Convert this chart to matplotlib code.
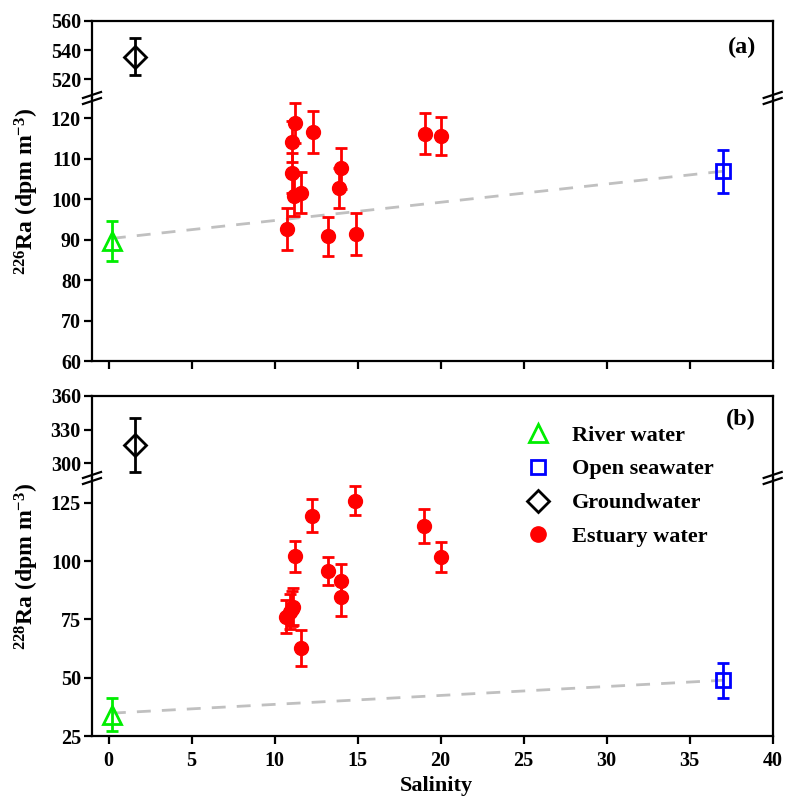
import numpy as np
import matplotlib
matplotlib.use('Agg')
import matplotlib.pyplot as plt
from matplotlib.lines import Line2D

plt.rcParams['font.family'] = ['Liberation Serif', 'DejaVu Serif']
plt.rcParams['font.weight'] = 'bold'
plt.rcParams['mathtext.fontset'] = 'custom'
plt.rcParams['mathtext.rm'] = 'Liberation Serif:bold'
plt.rcParams['mathtext.default'] = 'rm'

# end members
sal_river, sal_gw, sal_sea = 0.2, 1.6, 37.0

ra226_river, ra226_river_err = 89.7, 5.0
ra226_gw, ra226_gw_err = 535.5, 12.5
ra226_sea, ra226_sea_err = 106.9, 5.3

ra228_river, ra228_river_err = 34.2, 7.0
ra228_gw, ra228_gw_err = 316.0, 24.0
ra228_sea, ra228_sea_err = 48.9, 7.6

# estuary samples
sal_a = [10.75, 11.05, 11.2, 11.05, 11.15, 11.6, 12.3, 13.2, 13.9, 14.0, 14.9, 19.05, 20.0]
ra226 = [92.6, 114.2, 118.8, 106.5, 100.9, 101.6, 116.5, 90.8, 102.8, 107.6, 91.4, 116.2, 115.6]
ra226_err = [5.1, 5.0, 5.0, 5.0, 5.0, 5.0, 5.2, 4.8, 5.0, 5.0, 5.1, 5.0, 4.7]

sal_b = [10.67, 10.95, 11.2, 11.1, 11.05, 11.57, 12.28, 13.2, 13.97, 14.0, 14.87, 19.0, 20.0]
ra228 = [76.1, 78.2, 102.1, 80.4, 79.5, 62.8, 119.4, 95.8, 91.3, 84.4, 125.9, 115.1, 101.8]
ra228_err = [7.0, 7.5, 6.6, 7.9, 7.5, 7.6, 7.0, 6.0, 7.4, 7.9, 6.3, 7.2, 6.5]

W, H = 786, 799
fig = plt.figure(figsize=(W / 100, H / 100), dpi=100)

left, right = 92 / W, 772.7 / W


def rect(top_px, bot_px):
    return [left, 1 - bot_px / H, right - left, (bot_px - top_px) / H]


def draw_panel(top_px, brk_px, bot_px, hi_lim, hi_ticks, lo_lim, lo_ticks,
               river, gw, sea, sal, est, ylabel, tag, tag_y, show_xlabels):
    ax_hi = fig.add_axes(rect(top_px, brk_px))
    ax_lo = fig.add_axes(rect(brk_px, bot_px))
    for ax in (ax_hi, ax_lo):
        ax.errorbar([sal_river], [river[0]], yerr=[river[1]], fmt='^', ms=13,
                    mfc='none', mec='#00ee00', mew=2, ecolor='#00ee00',
                    elinewidth=2, capsize=4, capthick=2, zorder=4)
        ax.errorbar([sal_gw], [gw[0]], yerr=[gw[1]], fmt='D', ms=11,
                    mfc='none', mec='black', mew=2, ecolor='black',
                    elinewidth=2, capsize=4, capthick=2, zorder=4)
        ax.errorbar([sal_sea], [sea[0]], yerr=[sea[1]], fmt='s', ms=10,
                    mfc='none', mec='#0000ff', mew=2, ecolor='#0000ff',
                    elinewidth=2, capsize=4, capthick=2, zorder=4)
        ax.errorbar(sal, est[0], yerr=est[1], fmt='o', ms=10, color='red',
                    ecolor='red', elinewidth=2, capsize=4, capthick=2, zorder=3)
        ax.set_xlim(-1, 40)
        for s in ax.spines.values():
            s.set_linewidth(1.6)
        ax.tick_params(axis='y', direction='out', length=6, width=1.6,
                       labelsize=14.5, right=False, pad=2)
    ax_lo.plot([sal_river, sal_sea], [river[0] + 0.6, sea[0]], ls=(0, (5, 4)),
               color='#c0c0c0', lw=2, zorder=1)

    ax_hi.set_ylim(*hi_lim)
    ax_hi.set_yticks(hi_ticks)
    ax_hi.spines['bottom'].set_visible(False)
    ax_hi.tick_params(axis='x', bottom=False, labelbottom=False)
    ax_lo.set_ylim(*lo_lim)
    ax_lo.set_yticks(lo_ticks)
    ax_lo.spines['top'].set_visible(False)
    ax_lo.set_xticks(range(0, 41, 5))
    ax_lo.tick_params(axis='x', direction='out', length=6, width=1.6,
                      labelsize=14.5, labelbottom=show_xlabels, pad=5)

    fig.text(27 / W, 1 - (top_px + bot_px) / 2 / H, ylabel, rotation=90,
             ha='center', va='center', fontsize=17, fontweight='bold')
    fig.text(756 / W, 1 - tag_y / H, tag, ha='right', va='center',
             fontsize=17.5, fontweight='bold')

    # axis break marks
    yb = 1 - brk_px / H
    for xb in (left, right):
        for dy in (-3, 3):
            fig.add_artist(Line2D([xb - 9 / W, xb + 9 / W],
                                  [yb + (dy - 3) / H, yb + (dy + 3) / H],
                                  color='black', lw=1.6,
                                  transform=fig.transFigure))
    return ax_hi, ax_lo


draw_panel(21, 98, 361, (507, 560), [520, 540, 560], (60, 125),
           range(60, 121, 10),
           (ra226_river, ra226_river_err), (ra226_gw, ra226_gw_err),
           (ra226_sea, ra226_sea_err), sal_a, (ra226, ra226_err),
           r'$^{226}$Ra (dpm m$^{-3}$)', '(a)', 47, False)

draw_panel(396, 478, 736, (287, 360), [300, 330, 360], (25, 135.6),
           [25, 50, 75, 100, 125],
           (ra228_river, ra228_river_err), (ra228_gw, ra228_gw_err),
           (ra228_sea, ra228_sea_err), sal_b, (ra228, ra228_err),
           r'$^{228}$Ra (dpm m$^{-3}$)', '(b)', 419, True)

fig.text(436 / W, 1 - 786 / H, 'Salinity', ha='center',
         va='center', fontsize=16, fontweight='bold')

handles = [
    Line2D([], [], ls='none', marker='^', ms=13, mfc='none', mec='#00ee00', mew=2),
    Line2D([], [], ls='none', marker='s', ms=10, mfc='none', mec='#0000ff', mew=2),
    Line2D([], [], ls='none', marker='D', ms=11, mfc='none', mec='black', mew=2),
    Line2D([], [], ls='none', marker='o', ms=11, color='red'),
]
labels = ['River water', 'Open seawater', 'Groundwater', 'Estuary water']
fig.legend(handles, labels, loc='upper left', bbox_to_anchor=(505 / W, 1 - 405 / H),
           frameon=False, handlelength=1.2, handletextpad=0.9,
           labelspacing=0.6, prop={'weight': 'bold', 'size': 16})

fig.savefig('out.png', dpi=100)
